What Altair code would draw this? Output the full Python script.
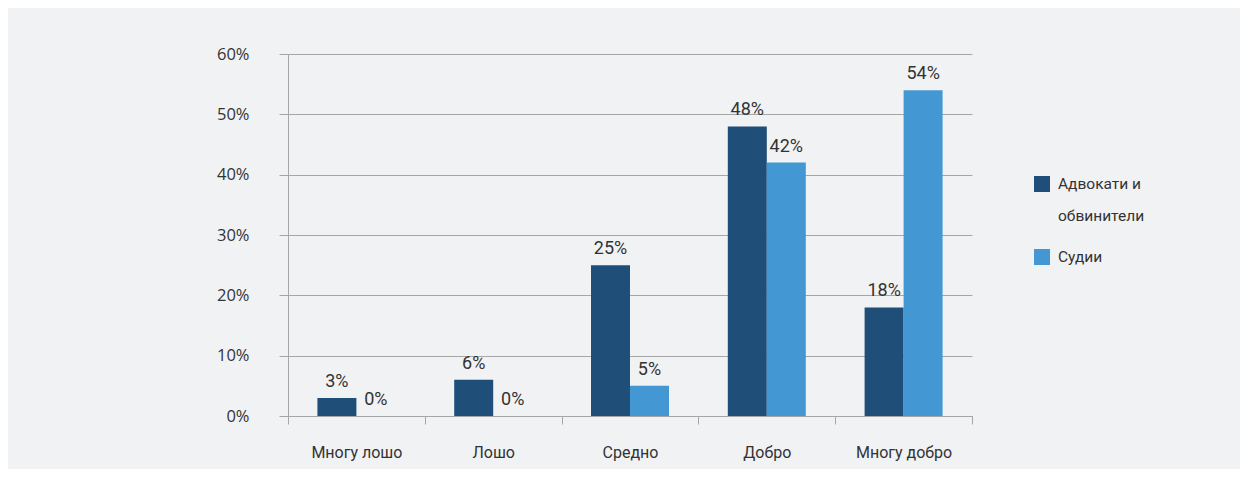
import altair as alt
import pandas as pd

categories = ["Многу лошо", "Лошо", "Средно", "Добро", "Многу добро"]
series = ["Адвокати и обвинители", "Судии"]
lawyers = [0.03, 0.06, 0.25, 0.48, 0.18]
judges = [0.00, 0.00, 0.05, 0.42, 0.54]
colors = ["#1f4e79", "#4398d3"]

rows = []
for c, v in zip(categories, lawyers):
    rows.append({"cat": c, "series": series[0], "value": v})
for c, v in zip(categories, judges):
    rows.append({"cat": c, "series": series[1], "value": v})
df = pd.DataFrame(rows)

COND = "Roboto, sans-serif"

x = alt.X("cat:N", sort=categories, title=None,
          scale=alt.Scale(paddingInner=0, paddingOuter=0),
          axis=alt.Axis(labelAngle=0, tickBand="extent", tickSize=8, tickColor="#a6a6a6",
                        domainColor="#a6a6a6", labelFont=COND, labelFontSize=16,
                        labelColor="#333333", labelPadding=20, grid=False))
xo = alt.XOffset("series:N", sort=series,
                 scale=alt.Scale(paddingInner=0, paddingOuter=0.754))
y = alt.Y("value:Q", title=None,
          scale=alt.Scale(domain=[0, 0.6], nice=False),
          axis=alt.Axis(values=[0, 0.1, 0.2, 0.3, 0.4, 0.5, 0.6], format=".0%",
                        tickSize=9, tickColor="#a6a6a6", domainColor="#a6a6a6",
                        gridColor="#a6a6a6", labelFont="Open Sans", labelFontSize=16.5,
                        labelColor="#333333", labelPadding=30))

bars = alt.Chart(df).mark_bar().encode(
    x=x, xOffset=xo, y=y,
    color=alt.Color("series:N", sort=series, title=None,
                    scale=alt.Scale(domain=series, range=colors),
                    legend=alt.Legend(orient="none", legendX=746, legendY=122,
                                      symbolType="square", symbolSize=256,
                                      symbolStrokeWidth=0, labelFont=COND,
                                      labelFontSize=15.5, labelColor="#333333",
                                      labelOffset=8, rowPadding=24, labelLimit=300,
                                      labelExpr="datum.label == 'Адвокати и обвинители' ? ['Адвокати и', 'обвинители'] : datum.label")),
)

labels = alt.Chart(df).mark_text(font=COND, fontSize=18, color="#333333", dy=-16,
                                 baseline="middle").encode(
    x=alt.X("cat:N", sort=categories), xOffset=alt.XOffset("series:N", sort=series),
    y="value:Q",
    text=alt.Text("value:Q", format=".0%"),
)

chart = (bars + labels).properties(
    width=684, height=362,
    autosize=alt.AutoSizeParams(type="none"),
    padding={"left": 280, "top": 46, "right": 268, "bottom": 53},
).configure(
    background="#f1f2f4",
    style={"guide-label": {"lineHeight": 32}},
).configure_view(strokeWidth=0)

chart.save("out.html", embed_options={"renderer": "svg", "actions": False})
